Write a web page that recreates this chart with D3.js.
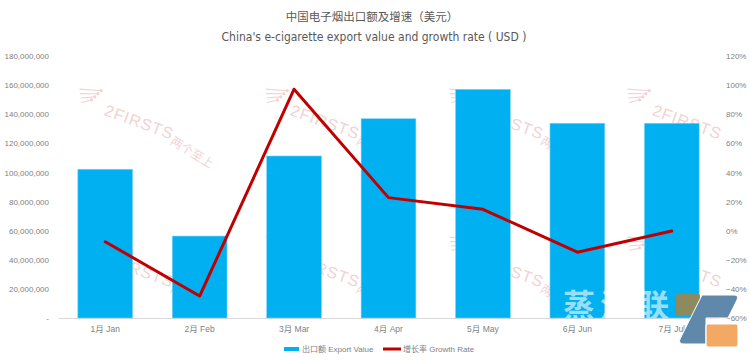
<!DOCTYPE html>
<html>
<head>
<meta charset="utf-8">
<script src="https://cdn.jsdelivr.net/npm/d3@7"></script>
<style>
  html, body { margin: 0; padding: 0; background: #fff; }
  #chart { width: 750px; height: 361px; }
  text { font-family: "DejaVu Sans Condensed", "Noto Sans CJK SC", sans-serif; }
</style>
</head>
<body>
<div id="chart"></div>
<script>
// ================================
// China's e-cigarette export value & growth rate (combo: bars + line)
// ================================

const MONTHS = ["1月 Jan", "2月 Feb", "3月 Mar", "4月 Apr", "5月 May", "6月 Jun", "7月 Jul"];
const EXPORT_VALUE = [102200000, 56300000, 111300000, 136900000, 157100000, 133800000, 133800000];
const GROWTH_RATE = [-0.076, -0.449, 0.972, 0.227, 0.147, -0.148, -0.002];

const LEFT_TICKS = [0, 20e6, 40e6, 60e6, 80e6, 100e6, 120e6, 140e6, 160e6, 180e6];
const RIGHT_TICKS = [-0.6, -0.4, -0.2, 0, 0.2, 0.4, 0.6, 0.8, 1.0, 1.2];

const TITLE_CN = "中国电子烟出口额及增速（美元）";
const TITLE_EN = "China's e-cigarette export value and growth rate ( USD )";
const LEGEND = ["出口额 Export Value", "增长率 Growth Rate"];

// watermark anchor points (decoration); last flag = show the chinese part
const WATERMARKS = [[76, 90, 1], [262, 90, 1], [446, 90, 1], [624, 90, 0], [76, 238, 1], [262, 238, 1], [446, 238, 1], [624, 238, 0]];

const W = 750, H = 361;
const plot = { left: 58, right: 719, top: 56, bottom: 318 };
const TICK_FONT = "'Liberation Sans', Arial, sans-serif";

const svg = d3.select("#chart").append("svg")
  .attr("width", W)
  .attr("height", H);

// Scales
const x = d3.scaleBand()
  .domain(MONTHS)
  .range([plot.left, plot.right])
  .paddingInner(0.42)
  .paddingOuter(0.21);

const yL = d3.scaleLinear().domain([0, 180e6]).range([plot.bottom, plot.top]);
const yR = d3.scaleLinear().domain([-0.6, 1.2]).range([plot.bottom, plot.top]);

// ================================
// Watermarks
// ================================
const wm = svg.append("g").attr("class", "watermarks").style("pointer-events", "none");
WATERMARKS.forEach(([wx, wy, cn]) => {
  const g = wm.append("g").attr("transform", `translate(${wx},${wy}) rotate(20)`);
  const col = "#f1d3d3";
  [0, 4, 8, 12].forEach((o, i) => {
    g.append("line")
      .attr("x1", 3 + i * 2).attr("y1", -2 + o)
      .attr("x2", 24 - i * 2).attr("y2", -8 + o)
      .attr("stroke", col).attr("stroke-width", 1.1);
    g.append("circle").attr("cx", 24 - i * 2).attr("cy", -8 + o).attr("r", 1.6).attr("fill", col);
  });
  g.append("text")
    .attr("x", 34).attr("y", 14)
    .attr("font-size", 16)
    .attr("fill", col)
    .attr("letter-spacing", 1)
    .style("font-family", TICK_FONT)
    .text("2FIRSTS");
  if (cn) {
    g.append("text")
      .attr("transform", "translate(106,18) rotate(12)")
      .attr("font-size", 12)
      .attr("fill", col)
      .style("font-family", "'Noto Sans CJK SC', sans-serif")
      .text("两个至上");
  }
});

// ================================
// Titles
// ================================
svg.append("text")
  .attr("x", 372).attr("y", 21)
  .attr("text-anchor", "middle")
  .attr("font-size", 11.5)
  .attr("fill", "#595959")
  .style("font-family", "'Noto Sans CJK SC', sans-serif")
  .text(TITLE_CN);

svg.append("text")
  .attr("x", 374).attr("y", 41)
  .attr("text-anchor", "middle")
  .attr("font-size", 12)
  .attr("fill", "#595959")
  .text(TITLE_EN);

// ================================
// Axes
// ================================
const fmtL = (d) => d === 0 ? "-" : d3.format(",")(d);
svg.append("g")
  .attr("transform", `translate(${plot.left - 9},0)`)
  .call(d3.axisLeft(yL).tickValues(LEFT_TICKS).tickFormat(fmtL).tickSize(0).tickPadding(0))
  .call((g) => g.select(".domain").remove())
  .call((g) => g.selectAll("text").attr("fill", "#7f7f7f").attr("font-size", 8)
    .style("font-family", TICK_FONT));

svg.append("g")
  .attr("transform", `translate(${plot.right + 7},0)`)
  .call(d3.axisRight(yR).tickValues(RIGHT_TICKS).tickFormat(d3.format(".0%")).tickSize(0).tickPadding(0))
  .call((g) => g.select(".domain").remove())
  .call((g) => g.selectAll("text").attr("fill", "#7f7f7f").attr("font-size", 8)
    .style("font-family", TICK_FONT));

svg.append("g")
  .attr("transform", `translate(0,${plot.bottom})`)
  .call(d3.axisBottom(x).tickSize(0).tickPadding(8))
  .call((g) => g.select(".domain").attr("stroke", "#d9d9d9"))
  .call((g) => g.selectAll("text").attr("fill", "#7f7f7f").attr("font-size", 8.5)
    .style("font-family", TICK_FONT + ", 'Noto Sans CJK SC'"));

// ================================
// Bars
// ================================
svg.append("g")
  .selectAll("rect")
  .data(MONTHS)
  .join("rect")
  .attr("x", (d) => x(d))
  .attr("y", (d, i) => yL(EXPORT_VALUE[i]))
  .attr("width", x.bandwidth())
  .attr("height", (d, i) => yL(0) - yL(EXPORT_VALUE[i]))
  .attr("fill", "#00b0f0")
  .attr("stroke", "#7fd4f6")
  .attr("stroke-width", 0.6);

// ================================
// Logo overlay (bottom right), white text only shows over the bars
// ================================
const logo = svg.append("g").attr("class", "logo").style("pointer-events", "none");
const clip = svg.append("clipPath").attr("id", "logo-clip");
clip.append("rect").attr("x", 0).attr("y", 0).attr("width", W).attr("height", plot.bottom);
logo.append("text")
  .attr("x", 563).attr("y", 317)
  .attr("clip-path", "url(#logo-clip)")
  .attr("font-size", 32)
  .attr("font-weight", 700)
  .attr("letter-spacing", 5)
  .attr("fill", "#ffffff")
  .attr("fill-opacity", 0.62)
  .style("font-family", "'Noto Sans CJK SC', sans-serif")
  .text("蒸汽联");

// ================================
// Growth rate line
// ================================
const line = d3.line()
  .x((d, i) => x(MONTHS[i]) + x.bandwidth() / 2)
  .y((d) => yR(d));

svg.append("path")
  .datum(GROWTH_RATE)
  .attr("d", line)
  .attr("fill", "none")
  .attr("stroke", "#c00000")
  .attr("stroke-width", 3)
  .attr("stroke-linejoin", "round")
  .attr("stroke-linecap", "round");

// logo shapes
logo.append("rect")
  .attr("x", 676).attr("y", 294).attr("width", 24).attr("height", 22).attr("rx", 2)
  .attr("fill", "#8d8a5f");
logo.append("path")
  .attr("d", "M702,295 L734,295 Q739,295 737,300 L728,318 L706,318 L706,344 L684,344 Q678,344 680,339 Z")
  .attr("fill", "#6088ab")
  .attr("stroke", "#ffffff")
  .attr("stroke-width", 1);
logo.append("rect")
  .attr("x", 706).attr("y", 324).attr("width", 32).attr("height", 23).attr("rx", 2)
  .attr("fill", "#f3a964")
  .attr("stroke", "#ffffff")
  .attr("stroke-width", 1.2);

// ================================
// Legend
// ================================
const lg = svg.append("g").attr("transform", "translate(0,349)");
lg.append("rect").attr("x", 284).attr("y", -2).attr("width", 15).attr("height", 4).attr("fill", "#00b0f0");
lg.append("text").attr("x", 302).attr("y", 3).attr("font-size", 8).attr("fill", "#7f7f7f")
  .style("font-family", TICK_FONT + ", 'Noto Sans CJK SC'").text(LEGEND[0]);
lg.append("line").attr("x1", 383).attr("x2", 401).attr("y1", 0).attr("y2", 0)
  .attr("stroke", "#c00000").attr("stroke-width", 3);
lg.append("text").attr("x", 403).attr("y", 3).attr("font-size", 8).attr("fill", "#7f7f7f")
  .style("font-family", TICK_FONT + ", 'Noto Sans CJK SC'").text(LEGEND[1]);
</script>
</body>
</html>
